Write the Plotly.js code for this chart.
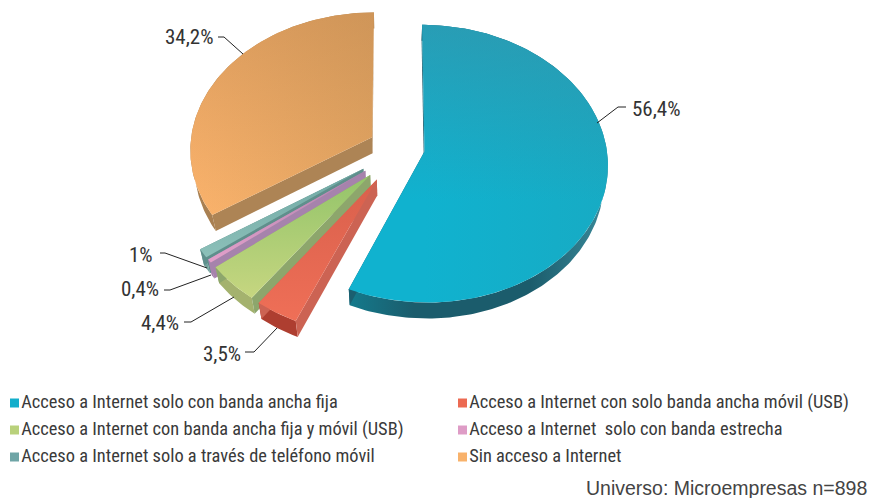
<!DOCTYPE html>
<html><head><meta charset="utf-8">
<script src="https://cdn.plot.ly/plotly-3.0.1.min.js"></script>
<style>html,body{margin:0;padding:0;background:#fff}#c{width:869px;height:498px}</style></head>
<body><div id="c"></div>
<script>
// ---- data ----
const categories = [
  "Acceso a Internet solo con banda ancha fija",
  "Acceso a Internet con solo banda ancha móvil (USB)",
  "Acceso a Internet con banda ancha fija y móvil (USB)",
  "Acceso a Internet  solo con banda estrecha",
  "Acceso a Internet solo a través de teléfono móvil",
  "Sin acceso a Internet"
];
const values = [56.4, 3.5, 4.4, 0.4, 1, 34.2];
const note = "Universo: Microempresas n=898";

// ---- style ----
const pulls     = [0.165, 0.21, 0.21, 0.21, 0.21, 0.137];
const shiftX    = [0, 1, 2, 1, 0, -1];
const shiftY    = [0, 7, 7, 6, 5, -1];
const topFront  = ["#10B2CF", "#EF6F57", "#C6D680", "#E3A0CA", "#8CC0B9", "#FBB36C"];
const topBack   = ["#26A2B9", "#D9604C", "#93C46A", "#B184AE", "#6FA7A3", "#CC955A"];
const wallOuter = ["#1B5F70", "#AE3E30", "#A4B26E", "#A884AE", "#72A29C", "#A98052"];
const wallCut   = ["#1B5F70", "#CC6353", "#8DA66C", "#A683AC", "#5F8F8C", "#AD8455"];
const legendCol = ["#13AECB", "#EC6A52", "#B9D17B", "#DE9CC6", "#6FA5A6", "#F8B26B"];
const legendX = [14.5, 462.5, 14.5, 462.5, 14.5, 462.5];
const legendY = [403, 403, 430, 430, 457, 457];
const labelX = [630, 243, 181, 161, 155, 216];
const labelY = [109, 354, 323, 289, 255, 37];
const leaderX = [[597,618,626],[277,254,245],[234,191,184],[211,170,164],[207,165,160],[243,224,218]];
const leaderY = [[123,107,107],[328,352,352],[297,322,322],[275,290,290],[268,253,253],[54,37,37]];

// ---- perspective projection of the exploded, extruded disc ----
const CX = 395, CY = 147, RX = 182, RY = 137, PERSP = 0.087, DEPTH = 16, SHRINK = 0.98;
function project(u, v, drop, i) {
  const w = 1 + PERSP * v;
  const s = drop ? SHRINK : 1;
  return [CX + shiftX[i] + s * RX * u / w, CY + shiftY[i] - RY * v / w + (drop || 0)];
}
function wedge(a0, a1, pull, i) {
  const mid = (a0 + a1) / 2;
  const su = pull * Math.sin(mid), sv = pull * Math.cos(mid);
  const apex = d => project(su, sv, d, i);
  const n = Math.max(2, Math.ceil((a1 - a0) / 0.015));
  const rim = d => {
    const p = [];
    for (let k = 0; k <= n; k++) {
      const a = a0 + (a1 - a0) * k / n;
      p.push(project(su + Math.sin(a), sv + Math.cos(a), d, i));
    }
    return p;
  };
  return {apex, rim};
}
function poly(pts, fill, grad) {
  const t = {type:"scatter", mode:"lines", x:pts.map(p=>p[0]), y:pts.map(p=>p[1]),
    fill:"toself", line:{width:0}, showlegend:false, hoverinfo:"skip"};
  if (grad) t.fillgradient = grad; else t.fillcolor = fill;
  return t;
}
const grad = (type, start, stop, c0, c1) =>
  ({type, start, stop, colorscale:[[0,c0],[1,c1]]});

const layers = [];
const traces = [];
const total = values.reduce((a,b)=>a+b,0);
let acc = 0;
values.forEach((v,i) => {
  const a0 = acc/total*2*Math.PI; acc += v; const a1 = acc/total*2*Math.PI;
  const w = wedge(a0,a1,pulls[i],i);
  const rt = w.rim(0), rb = w.rim(DEPTH);
  const at = w.apex(0), ab = w.apex(DEPTH);
  const g = [];
  const xs = rt.map(p=>p[0]).concat(at[0]), ys = rt.map(p=>p[1]).concat(at[1]);
  const xmin=Math.min(...xs), xmax=Math.max(...xs), ymin=Math.min(...ys), ymax=Math.max(...ys);
  const outerGrad = i===0 ? {type:"horizontal", start:xmin, stop:xmax,
      colorscale:[[0,"#147A8C"],[0.25,"#1B5C6C"],[0.7,"#1B5C6C"],[1,"#3A8A9A"]]} : null;
  g.push(poly(rt.concat(rb.slice().reverse()), wallOuter[i], outerGrad));
  g.push(poly([at, rt[0], rb[0], ab], wallCut[i]));
  g.push(poly([at, rt[rt.length-1], rb[rb.length-1], ab], wallCut[i]));
  const top = [at].concat(rt);
  if (i===0) {
    g.push(poly(top, null, grad("horizontal", at[0], xmax, topFront[i], "#17ABC4")));
    g.push(poly(top, null, grad("vertical", ymin, 200, "rgba(60,140,160,0.55)", "rgba(60,140,160,0)")));
  } else if (i===5) {
    g.push(poly(top, null, grad("horizontal", xmin, xmax, topFront[i], "#E3A562")));
    g.push(poly(top, null, grad("vertical", ymin, ymax, "rgba(170,120,70,0.35)", "rgba(170,120,70,0)")));
  } else {
    g.push(poly(top, null, grad("vertical", ymin, ymax, topBack[i], topFront[i])));
  }
  layers[i] = g;
});
[5,4,3,2,1,0].forEach(i => traces.push(...layers[i]));

leaderX.forEach((lx,i)=>traces.push({type:"scatter",mode:"lines",x:lx,y:leaderY[i],
  line:{color:"#222",width:1},showlegend:false,hoverinfo:"skip"}));

traces.push({type:"scatter",mode:"markers+text",x:legendX,y:legendY,text:categories,
  textposition:"middle right",
  textfont:{family:"Roboto Condensed",size:18.4,color:"#3a3a3a"},
  marker:{symbol:"square",size:9,color:legendCol},showlegend:false,hoverinfo:"skip"});

const anns = values.map((v,i)=>({
  xref:"x",yref:"y",x:labelX[i],y:labelY[i],showarrow:false,
  xanchor: i===0 ? "left":"right", yanchor:"middle",
  text:String(v).replace(".",",")+"%",
  font:{family:"Roboto Condensed",size:21,color:"#333"}}));
anns.push({xref:"x",yref:"y",x:866,xshift:3,y:488,showarrow:false,xanchor:"right",yanchor:"middle",
  text:note,font:{family:"Liberation Sans",size:19.5,color:"#444"}});

Plotly.newPlot("c",traces,{
  width:869,height:498,margin:{l:0,r:0,t:0,b:0},paper_bgcolor:"#fff",plot_bgcolor:"#fff",
  showlegend:false,
  xaxis:{visible:false,range:[0,869],fixedrange:true},
  yaxis:{visible:false,range:[498,0],fixedrange:true},
  annotations:anns
},{displayModeBar:false,staticPlot:true});
</script></body></html>
